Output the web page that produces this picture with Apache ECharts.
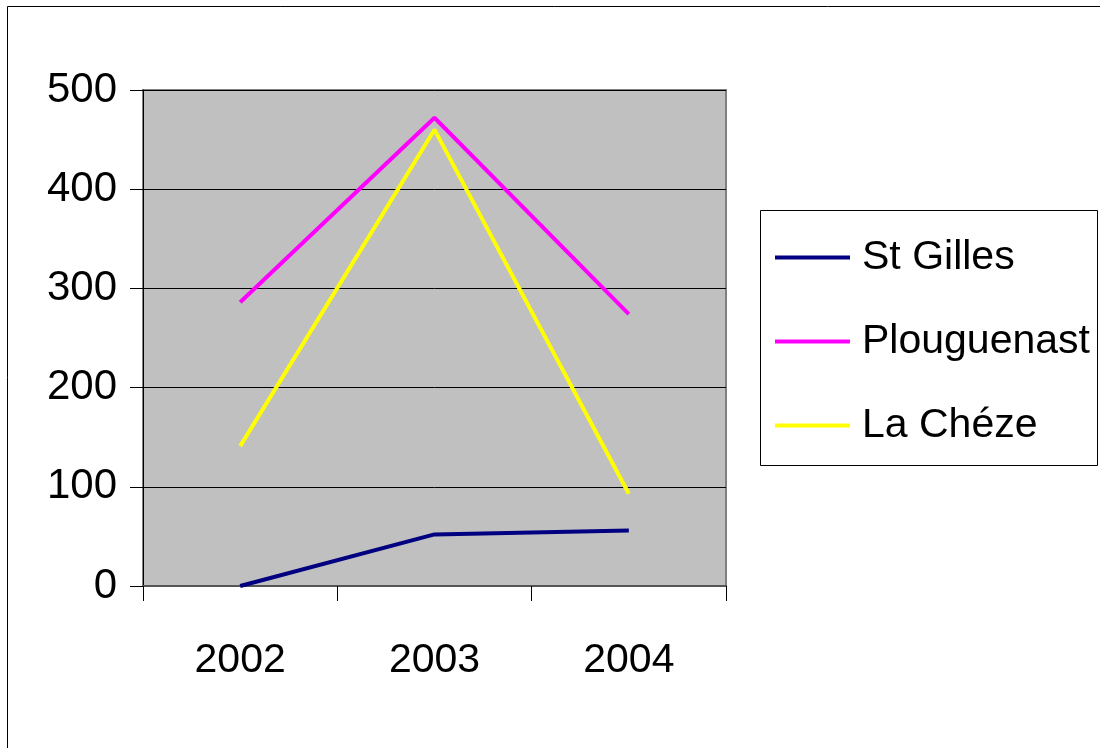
<!DOCTYPE html>
<html>
<head>
<meta charset="utf-8">
<script src="https://cdn.jsdelivr.net/npm/echarts@6/dist/echarts.min.js"></script>
<style>
  html, body { margin: 0; padding: 0; background: #fff; }
  #chart { width: 1100px; height: 748px; }
</style>
</head>
<body>
<div id="chart"></div>
<script>
// categories and values
var years = ['2002', '2003', '2004'];
var st_gilles = [0, 52, 56];
var plouguenast = [286, 472, 274];
var la_cheze = [141, 460, 93];
var y_ticks = [0, 100, 200, 300, 400, 500];

var series_names = ['St Gilles', 'Plouguenast', 'La Chéze'];
var series_colors = ['#000080', '#ff00ff', '#ffff00'];

var font = "'Liberation Sans', Arial, sans-serif";

var chart = echarts.init(document.getElementById('chart'));

var series_data = [st_gilles, plouguenast, la_cheze];
var series_list = [];
for (var i = 0; i < series_names.length; i++) {
  series_list.push({
    name: series_names[i],
    type: 'line',
    data: series_data[i],
    symbol: 'none',
    lineStyle: { color: series_colors[i], width: 4 },
    itemStyle: { color: series_colors[i] }
  });
}

chart.setOption({
  animation: false,
  backgroundColor: '#ffffff',
  textStyle: { fontFamily: font },
  graphic: [
    // outer chart frame
    {
      type: 'rect',
      shape: { x: 7.5, y: 6.5, width: 1120, height: 780 },
      style: { fill: 'none', stroke: '#000', lineWidth: 1 },
      z: -1
    },
    // legend frame
    {
      type: 'rect',
      shape: { x: 760.5, y: 210.5, width: 337, height: 255 },
      style: { fill: '#fff', stroke: '#000', lineWidth: 1 },
      z: 0
    }
  ],
  grid: {
    left: 143,
    top: 90,
    right: 374,
    bottom: 162,
    show: true,
    backgroundColor: '#c0c0c0',
    borderColor: '#808080',
    borderWidth: 2
  },
  legend: {
    left: 775,
    top: 237,
    orient: 'vertical',
    data: series_names,
    icon: 'rect',
    itemWidth: 75,
    itemHeight: 4,
    itemGap: 43,
    padding: 0,
    z: 5,
    textStyle: { fontSize: 41, color: '#000', fontFamily: font, padding: [0, 0, 0, 7] }
  },
  xAxis: {
    type: 'category',
    data: years,
    boundaryGap: true,
    axisLine: { lineStyle: { color: '#555', width: 2 } },
    axisTick: { show: true, length: 15, lineStyle: { color: '#000' } },
    axisLabel: { fontSize: 41, color: '#000', margin: 54, fontFamily: font },
    splitLine: { show: false }
  },
  yAxis: {
    type: 'value',
    min: y_ticks[0],
    max: y_ticks[y_ticks.length - 1],
    interval: 100,
    axisLine: { show: true, lineStyle: { color: '#000', width: 1 } },
    axisTick: { show: true, length: 13, lineStyle: { color: '#000' } },
    axisLabel: { fontSize: 42, color: '#000', margin: 26, fontFamily: font },
    splitLine: { show: true, lineStyle: { color: '#000', width: 1 } }
  },
  series: series_list
});
</script>
</body>
</html>
